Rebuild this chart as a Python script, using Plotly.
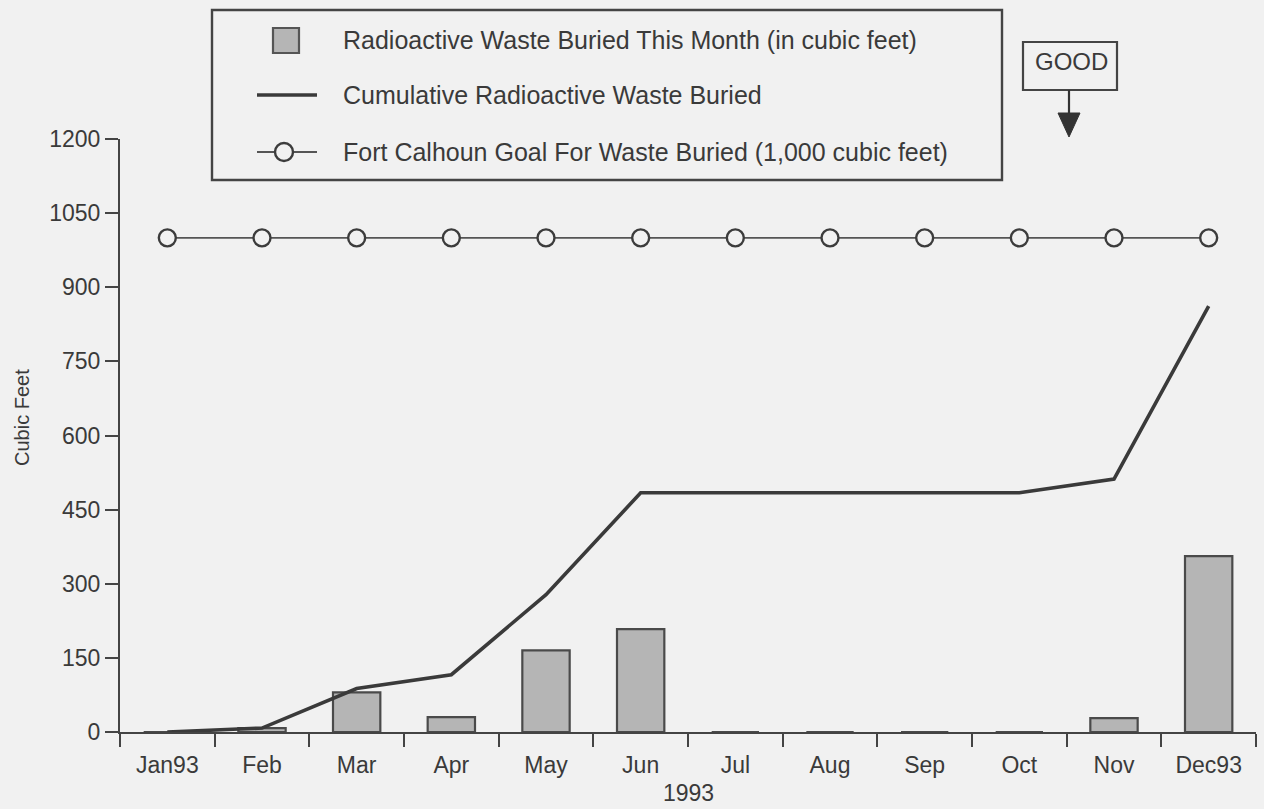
import plotly.graph_objects as go

# Monthly radioactive waste buried at Fort Calhoun, 1993 (cubic feet)
months = ["Jan93", "Feb", "Mar", "Apr", "May", "Jun",
          "Jul", "Aug", "Sep", "Oct", "Nov", "Dec93"]
buried_this_month = [0, 8, 80, 30, 165, 208, 0, 0, 0, 0, 28, 356]
cumulative_buried = [0, 8, 88, 116, 278, 484, 484, 484, 484, 484, 512, 862]
goal_buried = [1000] * 12

y_ticks = [0, 150, 300, 450, 600, 750, 900, 1050, 1200]

W, H = 1264, 809
M_L, M_R, M_T, M_B = 120, 8, 139, 77
PLOT_W = W - M_L - M_R
PLOT_H = H - M_T - M_B

BG = "#f1f1f1"
INK = "#3a3a3a"
FONT = "Liberation Sans, Arial, Helvetica, sans-serif"


def px(x):
    """Horizontal pixel position -> paper fraction."""
    return (x - M_L) / PLOT_W


def py(y):
    """Vertical pixel position -> paper fraction."""
    return (H - M_B - y) / PLOT_H


fig = go.Figure()

fig.add_trace(go.Bar(
    x=months, y=buried_this_month, width=0.5,
    marker=dict(color="#b5b5b5", line=dict(color="#4a4a4a", width=2.2)),
    showlegend=False,
))
fig.add_trace(go.Scatter(
    x=months, y=cumulative_buried, mode="lines",
    line=dict(color=INK, width=3.6),
    showlegend=False,
))
fig.add_trace(go.Scatter(
    x=months, y=goal_buried, mode="lines+markers",
    line=dict(color="#555555", width=1.8),
    marker=dict(symbol="circle", size=17, color=BG,
                line=dict(color="#3c3c3c", width=2.4)),
    showlegend=False,
))

shapes = []
annotations = []

# legend frame
shapes.append(dict(type="rect", xref="paper", yref="paper",
                   x0=px(212), x1=px(1002), y0=py(10), y1=py(180),
                   line=dict(color="#444444", width=2.4), fillcolor=BG, layer="above"))

# legend symbols
shapes.append(dict(type="rect", xref="paper", yref="paper",
                   x0=px(273), x1=px(299), y0=py(28), y1=py(53),
                   line=dict(color="#555555", width=2.2), fillcolor="#b5b5b5", layer="above"))
shapes.append(dict(type="line", xref="paper", yref="paper",
                   x0=px(257), x1=px(317), y0=py(95), y1=py(95),
                   line=dict(color=INK, width=3.6), layer="above"))
shapes.append(dict(type="line", xref="paper", yref="paper",
                   x0=px(257), x1=px(317), y0=py(152), y1=py(152),
                   line=dict(color="#555555", width=1.8), layer="above"))
shapes.append(dict(type="circle", xref="paper", yref="paper",
                   x0=px(275), x1=px(293), y0=py(143), y1=py(161),
                   line=dict(color="#3c3c3c", width=2.4), fillcolor=BG, layer="above"))

legend_rows = [
    ("Radioactive Waste Buried This Month (in cubic feet)", 40),
    ("Cumulative Radioactive Waste Buried", 95),
    ("Fort Calhoun Goal For Waste Buried (1,000 cubic feet)", 152),
]
for text, yy in legend_rows:
    annotations.append(dict(xref="paper", yref="paper", x=px(341), y=py(yy),
                            xanchor="left", yanchor="middle", showarrow=False,
                            text=text, font=dict(family=FONT, size=25, color=INK)))

# "GOOD" direction marker
shapes.append(dict(type="rect", xref="paper", yref="paper",
                   x0=px(1023), x1=px(1117), y0=py(42), y1=py(90),
                   line=dict(color="#444444", width=2.2), fillcolor=BG, layer="above"))
shapes.append(dict(type="line", xref="paper", yref="paper",
                   x0=px(1069), x1=px(1069), y0=py(90), y1=py(116),
                   line=dict(color="#333333", width=2.2), layer="above"))
shapes.append(dict(type="path", xref="paper", yref="paper",
                   path="M {} {} L {} {} L {} {} Z".format(
                       px(1058), py(113), px(1080), py(113), px(1069), py(137)),
                   line=dict(color="#333333", width=1), fillcolor="#333333", layer="above"))
annotations.append(dict(xref="paper", yref="paper", x=px(1071), y=py(61),
                        xanchor="center", yanchor="middle", showarrow=False,
                        text="GOOD", font=dict(family=FONT, size=24, color=INK)))

# axis titles
annotations.append(dict(xref="paper", yref="paper", x=px(22), y=py(418),
                        xanchor="center", yanchor="middle", showarrow=False,
                        textangle=-90, text="Cubic Feet",
                        font=dict(family=FONT, size=20, color=INK)))
annotations.append(dict(xref="paper", yref="paper", x=px(688), y=py(793),
                        xanchor="center", yanchor="middle", showarrow=False,
                        text="1993", font=dict(family=FONT, size=23, color=INK)))

fig.update_layout(
    width=W, height=H,
    margin=dict(l=M_L, r=M_R, t=M_T, b=M_B),
    paper_bgcolor=BG, plot_bgcolor=BG,
    font=dict(family=FONT, size=24, color=INK),
    shapes=shapes, annotations=annotations,
    bargap=0.5,
)
fig.update_xaxes(
    type="category", categoryorder="array", categoryarray=months,
    range=[-0.5, 11.5], tickson="boundaries",
    ticks="outside", ticklen=13, tickwidth=2.2, tickcolor="#444444",
    showline=True, linecolor="#444444", linewidth=2.2,
    showgrid=False, zeroline=False, ticklabelstandoff=11,
    tickfont=dict(family=FONT, size=23, color=INK),
)
fig.update_yaxes(
    range=[0, 1200], tickvals=y_ticks,
    ticks="outside", ticklen=13, tickwidth=2.2, tickcolor="#444444",
    showline=True, linecolor="#444444", linewidth=2.2,
    showgrid=False, zeroline=False,
    tickfont=dict(family=FONT, size=23, color=INK),
)

fig.write_html("out.html")
